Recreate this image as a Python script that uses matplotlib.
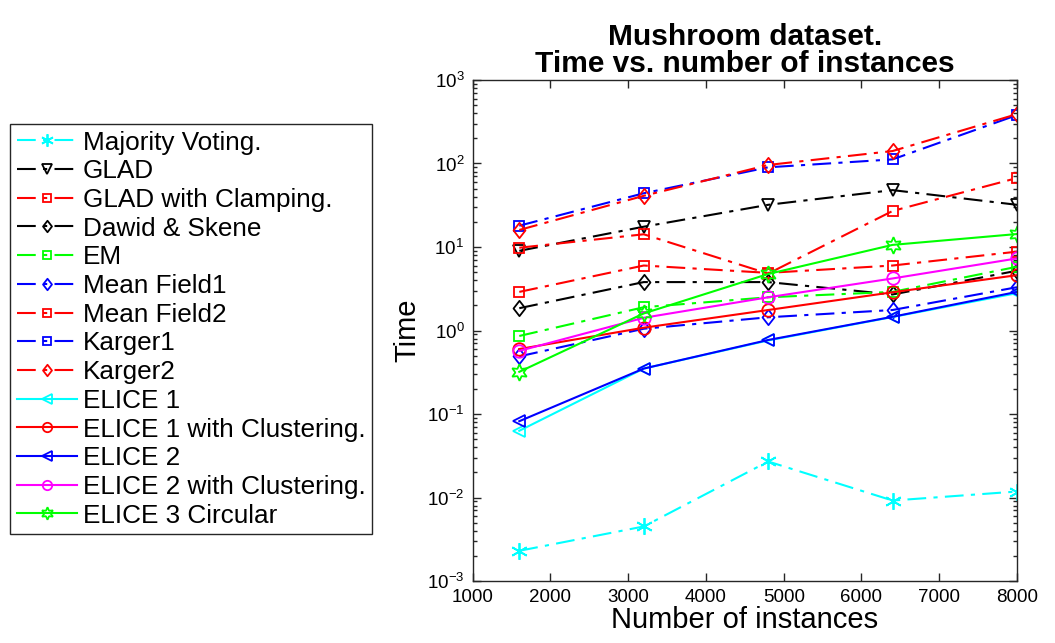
import matplotlib
matplotlib.use("Agg")
import matplotlib.pyplot as plt
from matplotlib.ticker import LogLocator, NullFormatter, FixedLocator
from matplotlib.path import Path

plt.rcParams['font.family'] = ['Liberation Sans', 'DejaVu Sans']

x = [1600, 3200, 4800, 6400, 8000]

names = ["Majority Voting.", "GLAD", "GLAD with Clamping.", "Dawid & Skene", "EM",
         "Mean Field1", "Mean Field2", "Karger1", "Karger2", "ELICE 1",
         "ELICE 1 with Clustering.", "ELICE 2", "ELICE 2 with Clustering.", "ELICE 3 Circular"]

majority_voting = [0.0023, 0.0045, 0.027, 0.0092, 0.0118]
glad = [9.0, 17.5, 32, 48, 32]
glad_clamping = [9.8, 14.2, 4.8, 27, 67]
dawid_skene = [1.85, 3.8, 3.8, 2.7, 5.2]
em = [0.86, 1.9, 2.5, 2.9, 5.8]
mean_field1 = [0.49, 1.05, 1.44, 1.76, 3.3]
mean_field2 = [2.9, 6.0, 4.9, 6.0, 8.8]
karger1 = [18, 44, 90, 112, 380]
karger2 = [16, 41, 96, 141, 390]
elice1 = [0.063, 0.35, 0.76, 1.45, 2.8]
elice1_clust = [0.6, 1.08, 1.76, 2.87, 4.6]
elice2 = [0.082, 0.35, 0.77, 1.46, 2.9]
elice2_clust = [0.57, 1.42, 2.5, 4.2, 7.3]
elice3_circ = [0.32, 1.6, 4.75, 10.6, 14.3]

series = [majority_voting, glad, glad_clamping, dawid_skene, em, mean_field1,
          mean_field2, karger1, karger2, elice1, elice1_clust, elice2,
          elice2_clust, elice3_circ]
colors = ['#00ffff', 'black', 'red', 'black', '#00ff00', 'blue', 'red', 'blue',
          'red', '#00ffff', 'red', 'blue', '#ff00ff', '#00ff00']
markers = ['*', 'v', 's', 'D', 's', 'D', 's', 's', 'D', '<', 'o', '<', 'o', 'h']
styles = ['-.'] * 9 + ['-'] * 5

diamond = Path([(0, 1), (0.78, 0), (0, -1), (-0.78, 0), (0, 1)],
               [Path.MOVETO, Path.LINETO, Path.LINETO, Path.LINETO, Path.CLOSEPOLY])

fig = plt.figure(figsize=(10.55, 6.43), dpi=100)
ax = fig.add_axes([0.448, 0.0964, 0.516, 0.7792])

handles = []
for name, ys, c, m, ls in zip(names, series, colors, markers, styles):
    if m == '*':
        mk, ms = (6, 2, 0), 12
    elif m == 'h':
        mk, ms = (6, 1, 0), 12
    elif m == 'D':
        mk, ms = diamond, 11
    elif m == 's':
        mk, ms = 's', 7.5
    elif m == 'o':
        mk, ms = 'o', 9
    else:
        mk, ms = m, 9
    kw = dict(color=c, marker=mk, markersize=ms, markerfacecolor='none',
              markeredgecolor=c, markeredgewidth=1.3, linewidth=1.5, label=name)
    if ls == '-.':
        kw['dashes'] = (9, 3.5, 2, 3.5)
    else:
        kw['linestyle'] = '-'
    h, = ax.plot(x, ys, **kw)
    handles.append(h)

ax.set_yscale('log')
ax.set_xlim(1000, 8000)
ax.set_ylim(1e-3, 1e3)
ax.xaxis.set_major_locator(FixedLocator([1000, 2000, 3000, 4000, 5000, 6000, 7000, 8000]))
ax.yaxis.set_major_locator(LogLocator(base=10, numticks=10))
ax.yaxis.set_minor_locator(LogLocator(base=10, subs=range(2, 10), numticks=20))
ax.yaxis.set_minor_formatter(NullFormatter())
ax.tick_params(which='both', direction='in', top=True, right=True, labelsize=13.5,
               width=1.0, color='#262626')
ax.tick_params(axis='x', which='major', pad=6)
ax.tick_params(axis='y', which='major', pad=6)
ax.tick_params(which='major', length=6)
ax.tick_params(which='minor', length=3)
for s in ax.spines.values():
    s.set_linewidth(1.0)
    s.set_color('#262626')

ax.set_xlabel("Number of instances", fontsize=21, labelpad=0)
ax.set_ylabel("Time", fontsize=21, labelpad=4)
ax.set_title("Mushroom dataset.\nTime vs. number of instances", fontsize=21.5,
             fontweight='bold', pad=6, linespacing=0.92)

leg = fig.legend(handles=handles, loc='upper left',
                 bbox_to_anchor=(10 / 1055, 1 - 124 / 643), fontsize=18.8,
                 frameon=True, fancybox=False, edgecolor='#262626', framealpha=1,
                 handlelength=2.3, handletextpad=0.25, borderpad=0.25,
                 labelspacing=0.18, borderaxespad=0, markerscale=0.75)
leg.get_frame().set_linewidth(1.0)

fig.savefig("out.png", dpi=100)
